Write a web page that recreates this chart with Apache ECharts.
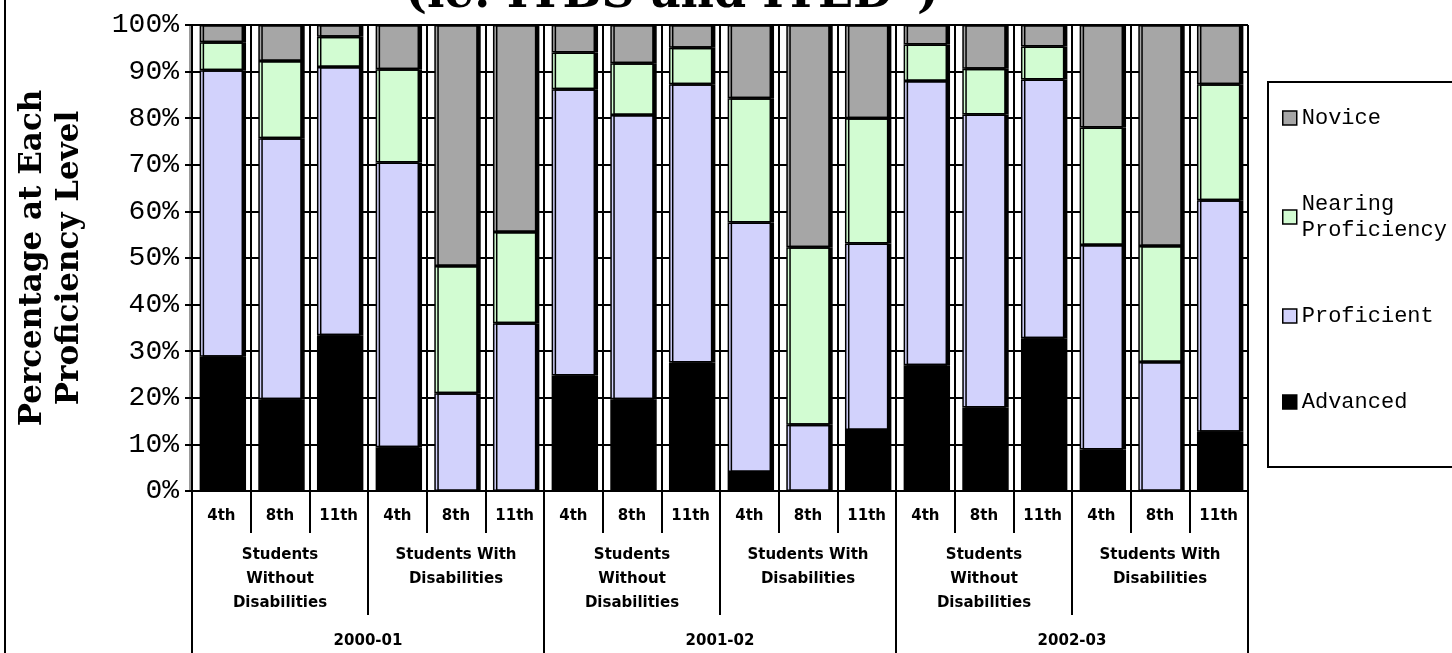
<!DOCTYPE html>
<html>
<head>
<meta charset="utf-8">
<script src="https://cdn.jsdelivr.net/npm/echarts@6/dist/echarts.min.js"></script>
<style>
  html, body { margin: 0; padding: 0; background: #fff; }
  #chart { width: 1452px; height: 653px; }
</style>
</head>
<body>
<div id="chart"></div>
<script>
// Grade levels along the bottom, then the group and school-year rows beneath them
const categories = ['4th', '8th', '11th', '4th', '8th', '11th',
                    '4th', '8th', '11th', '4th', '8th', '11th',
                    '4th', '8th', '11th', '4th', '8th', '11th'];
const groupLabels = ['Students\nWithout\nDisabilities', 'Students With\nDisabilities',
                     'Students\nWithout\nDisabilities', 'Students With\nDisabilities',
                     'Students\nWithout\nDisabilities', 'Students With\nDisabilities'];
const yearLabels = ['2000-01', '2001-02', '2002-03'];

// Percentage of students at each proficiency level (stacked bottom to top)
const advanced   = [28.8, 19.7, 33.4, 9.4, 0, 0, 24.8, 19.7, 27.6, 4.1, 0, 13.1, 27.0, 17.9, 32.8, 8.9, 0, 12.7];
const proficient = [61.5, 56.0, 57.6, 61.1, 21.0, 36.0, 61.4, 61.0, 59.7, 53.5, 14.2, 40.0, 61.0, 62.9, 55.5, 43.9, 27.7, 49.7];
const nearing    = [6.0, 16.6, 6.5, 20.0, 27.3, 19.6, 7.9, 11.1, 7.8, 26.7, 38.1, 26.9, 7.8, 9.8, 7.1, 25.2, 24.9, 24.9];
const novice     = [3.7, 7.7, 2.5, 9.5, 51.7, 44.4, 5.9, 8.2, 4.9, 15.7, 47.7, 20.0, 4.2, 9.4, 4.6, 22.0, 47.4, 12.7];

const legendOrder = ['Novice', 'Nearing Proficiency', 'Proficient', 'Advanced'];

const chart = echarts.init(document.getElementById('chart'));

const labelFont = { fontFamily: 'DejaVu Sans', fontWeight: 'bold', fontSize: 15, color: '#000' };

function barSeries(name, data, color) {
  return {
    name: name,
    type: 'bar',
    stack: 'levels',
    xAxisIndex: 0,
    barWidth: '74%',
    data: data,
    itemStyle: {
      color: color,
      borderColor: '#000',
      borderWidth: 1.5,
      shadowColor: '#000',
      shadowBlur: 0,
      shadowOffsetX: 3,
      shadowOffsetY: 0
    },
    emphasis: { disabled: true }
  };
}

chart.setOption({
  animation: false,
  backgroundColor: '#fff',
  grid: { left: 192, right: 204, top: 25, bottom: 162, containLabel: false, outerBoundsMode: 'none' },
  legend: {
    orient: 'vertical',
    left: 1268,
    top: 82,
    padding: [23, 24, 52, 14],
    itemGap: 60,
    itemWidth: 14,
    itemHeight: 14,
    borderColor: '#000',
    borderWidth: 2,
    data: legendOrder,
    icon: 'rect',
    itemStyle: { borderColor: '#000', borderWidth: 1.5, shadowColor: 'transparent', shadowOffsetX: 0 },
    formatter: function (name) { return name.replace('Nearing ', 'Nearing\n'); },
    textStyle: { fontFamily: 'Liberation Mono', fontSize: 22, lineHeight: 26, color: '#000' },
    selectedMode: false
  },
  xAxis: [
    {
      type: 'category',
      data: categories,
      position: 'bottom',
      axisLine: { show: true, lineStyle: { color: '#000', width: 2 } },
      axisTick: { show: true, length: 42, lineStyle: { color: '#000', width: 2 } },
      axisLabel: Object.assign({ margin: 18, interval: 0 }, labelFont),
      splitLine: { show: true, lineStyle: { color: '#000', width: 2 } }
    },
    {
      type: 'category',
      data: groupLabels,
      position: 'bottom',
      axisLine: { show: false },
      axisTick: { show: true, length: 124, lineStyle: { color: '#000', width: 2 } },
      axisLabel: Object.assign({ margin: 52, interval: 0, lineHeight: 24 }, labelFont),
      splitLine: { show: false }
    },
    {
      type: 'category',
      data: yearLabels,
      position: 'bottom',
      axisLine: { show: false },
      axisTick: { show: true, length: 170, lineStyle: { color: '#000', width: 2 } },
      axisLabel: Object.assign({ margin: 143, interval: 0 }, labelFont),
      splitLine: { show: false }
    }
  ],
  yAxis: {
    type: 'value',
    min: 0,
    max: 100,
    interval: 10,
    name: 'Percentage at Each\nProficiency Level',
    nameLocation: 'middle',
    nameRotate: 90,
    nameGap: 104,
    nameTextStyle: { fontFamily: 'DejaVu Serif', fontWeight: 'bold', fontSize: 31, lineHeight: 37, color: '#000' },
    axisLine: { show: true, lineStyle: { color: '#000', width: 2, shadowColor: '#999', shadowOffsetX: -2 } },
    axisTick: { show: true, length: 7, lineStyle: { color: '#000', width: 2 } },
    axisLabel: { formatter: '{value}%', margin: 13, fontFamily: 'Liberation Mono', fontSize: 28, color: '#000' },
    splitLine: { show: true, lineStyle: { color: '#000', width: 2 } }
  },
  graphic: [
    {
      type: 'text',
      x: 672,
      y: -5,
      style: {
        text: '(ie: ITBS and ITED*)',
        fontFamily: 'DejaVu Serif',
        fontWeight: 'bold',
        fontSize: 46,
        fill: '#000',
        align: 'center',
        verticalAlign: 'middle'
      }
    },
    {
      type: 'line',
      shape: { x1: 5, y1: 0, x2: 5, y2: 653 },
      style: { stroke: '#000', lineWidth: 2 }
    }
  ],
  series: [
    barSeries('Advanced', advanced, '#000000'),
    barSeries('Proficient', proficient, '#d2d2fc'),
    barSeries('Nearing Proficiency', nearing, '#d2fcd2'),
    barSeries('Novice', novice, '#a6a6a6')
  ]
});
</script>
</body>
</html>
